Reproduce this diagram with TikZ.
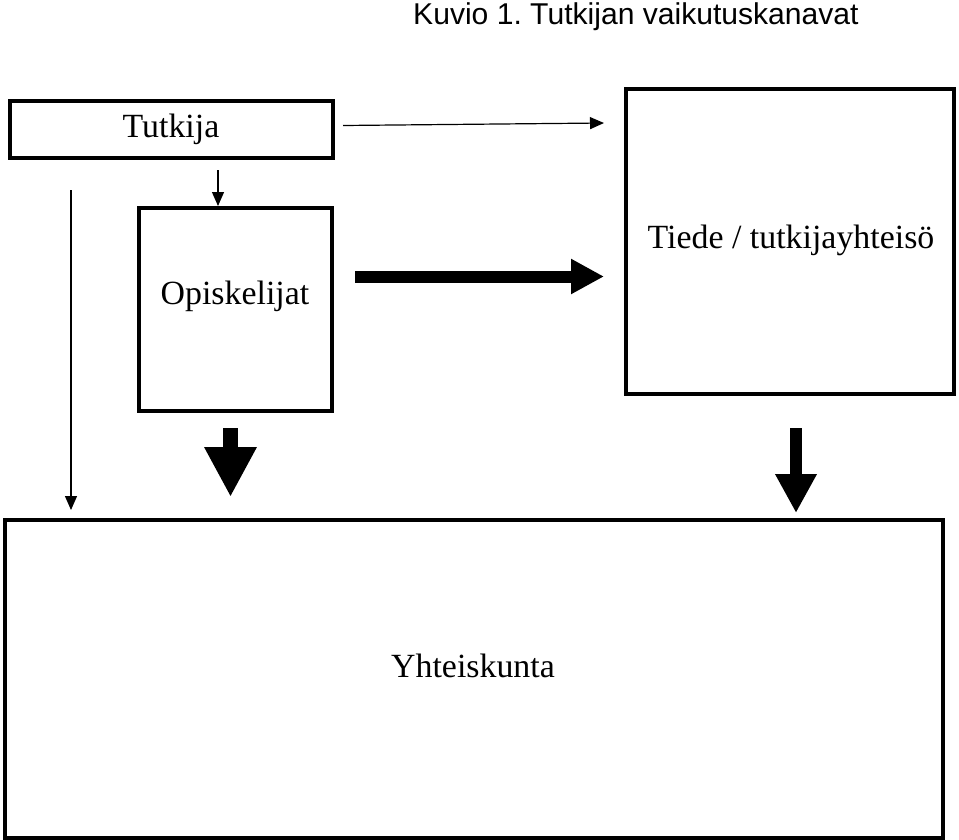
\documentclass[tikz,border=0pt]{standalone}
\usepackage{fontspec}
\setmainfont{Liberation Serif}
\newfontfamily\titlefont{Liberation Sans}
\usetikzlibrary{arrows.meta}
\frenchspacing
\begin{document}
\begin{tikzpicture}[x=1bp,y=-1bp,
  boxstyle/.style={draw=black,line width=3.5bp,inner sep=0pt,fill=none},
  lbl/.style={font=\fontsize{34}{40}\selectfont,anchor=base,inner sep=0pt},
  thinarrow/.style={line width=1.2bp,-{Triangle[length=14bp,width=12bp]}},
  thickh/.style={line width=12bp,-{Triangle[length=33bp,width=33bp]}},
  thickdA/.style={line width=15bp,-{Triangle[length=50bp,width=49bp]}},
  thickdB/.style={line width=12bp,-{Triangle[length=39bp,width=39bp]}}]
\useasboundingbox (0,0) rectangle (959,840);
% boxes
\draw[boxstyle] (10,101) rectangle (333,158);
\node[inner sep=0pt,minimum width=323bp,minimum height=57bp] (tut) at (171.5,129.5) {};
\draw[boxstyle] (139,208) rectangle (332,411);
\node[inner sep=0pt,minimum width=193bp,minimum height=203bp] (opi) at (235.5,309.5) {};
\draw[boxstyle] (626,89) rectangle (954,394);
\node[inner sep=0pt,minimum width=328bp,minimum height=305bp] (tie) at (790,241.5) {};
\draw[boxstyle] (5,520) rectangle (943,838);
\node[inner sep=0pt,minimum width=938bp,minimum height=318bp] (yht) at (474,679) {};
% labels
\node[anchor=base west,inner sep=0pt,font=\titlefont\fontsize{30.2}{34}\selectfont] (title) at (413,24) {Kuvio 1. Tutkijan vaikutuskanavat};
\node[lbl] (tutl) at (171,137) {Tutkija};
\node[lbl] (opil) at (235,304) {Opiskelijat};
\node[lbl] (tiel) at (791,248) {Tiede / tutkijayhteisö};
\node[lbl] (yhtl) at (473,677) {Yhteiskunta};
% connectors
\coordinate (a1s) at (343,125.5);
\coordinate (a1e) at (604,123);
\draw[thinarrow] (a1s) -- (a1e);
\coordinate (a2s) at (218,170);
\coordinate (a2e) at (218,206);
\draw[thinarrow] (a2s) -- (a2e);
\coordinate (a3s) at (71,190);
\coordinate (a3e) at (71,510);
\draw[thinarrow] (a3s) -- (a3e);
\coordinate (a4s) at (355,276.5);
\coordinate (a4e) at (604,276.5);
\draw[thickh] (a4s) -- (a4e);
\coordinate (a5s) at (230.5,428);
\coordinate (a5e) at (230.5,497);
\draw[thickdA] (a5s) -- (a5e);
\coordinate (a6s) at (796,428);
\coordinate (a6e) at (796,513);
\draw[thickdB] (a6s) -- (a6e);
\end{tikzpicture}
\end{document}
